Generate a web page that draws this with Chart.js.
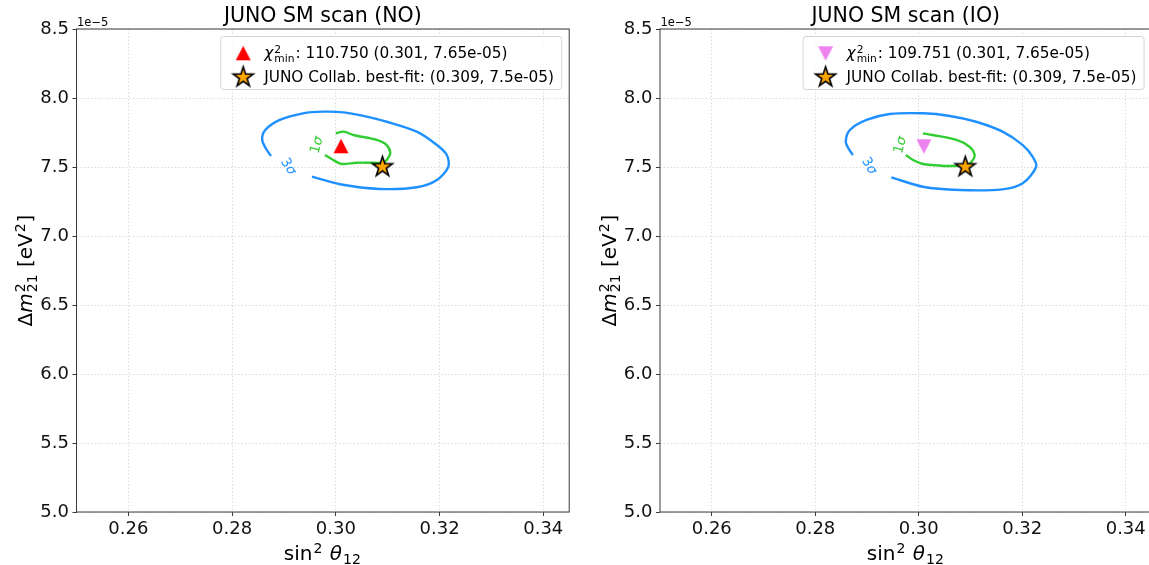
<!DOCTYPE html>
<html>
<head>
<meta charset="utf-8">
<script src="https://cdn.jsdelivr.net/npm/chart.js@4.4.0/dist/chart.umd.min.js"></script>
<style>
  html, body { margin: 0; padding: 0; background: #fff; overflow: hidden; }
  #wrap { position: relative; width: 1149px; height: 565px; overflow: hidden; }
  canvas { position: absolute; top: 0; }
</style>
</head>
<body>
<div id="wrap">
  <canvas id="cNO" width="574" height="565" style="left:0px"></canvas>
  <canvas id="cIO" width="580" height="565" style="left:574px"></canvas>
</div>
<script>
// axes: sin^2(theta12) vs dm^2_21, y values are in units of 1e-5 eV^2
const xTicks = [0.26, 0.28, 0.30, 0.32, 0.34];
const yTicks = [5.0, 5.5, 6.0, 6.5, 7.0, 7.5, 8.0, 8.5];

// NO contours
const noSig3X = [0.2954, 0.3008, 0.3085, 0.3156, 0.3195, 0.3217, 0.3214, 0.3195, 0.3156, 0.3098, 0.3053, 0.3015, 0.2976, 0.2937, 0.2892, 0.2864, 0.2858, 0.2867, 0.2875];
const noSig3Y = [7.430, 7.375, 7.341, 7.353, 7.406, 7.502, 7.587, 7.659, 7.756, 7.828, 7.870, 7.896, 7.901, 7.889, 7.841, 7.768, 7.696, 7.623, 7.580];
const noSig1X = [0.3000, 0.3015, 0.3034, 0.3079, 0.3098, 0.3105, 0.3098, 0.3092, 0.3072, 0.3040, 0.3011, 0.2995, 0.2979];
const noSig1Y = [7.744, 7.756, 7.732, 7.696, 7.659, 7.599, 7.551, 7.531, 7.531, 7.531, 7.522, 7.551, 7.587];

// IO contours
const ioSig3X = [0.2947, 0.3008, 0.3079, 0.3162, 0.3201, 0.3227, 0.3220, 0.3201, 0.3162, 0.3111, 0.3060, 0.3008, 0.2944, 0.2899, 0.2867, 0.2859, 0.2866, 0.2873];
const ioSig3Y = [7.425, 7.357, 7.333, 7.338, 7.382, 7.502, 7.575, 7.659, 7.756, 7.828, 7.870, 7.889, 7.884, 7.841, 7.768, 7.683, 7.623, 7.587];
const ioSig1X = [0.3008, 0.3027, 0.3073, 0.3098, 0.3108, 0.3102, 0.3092, 0.3060, 0.3027, 0.3008, 0.2989, 0.2975];
const ioSig1Y = [7.744, 7.732, 7.696, 7.647, 7.587, 7.538, 7.514, 7.507, 7.514, 7.522, 7.551, 7.587];

// best points
const noMin = [0.301, 7.65];
const ioMin = [0.301, 7.65];
const bestFit = [0.309, 7.5];
const chi2NO = 110.750;
const chi2IO = 109.751;

const FONT = "'DejaVu Sans', sans-serif";
const BLUE = '#1e90ff', GREEN = '#32cd32', SPINE = '#3a3a3a';

function font(size, it) { return (it ? 'italic ' : '') + size + 'px ' + FONT; }
function pts(xs, ys) { return xs.map((x, i) => ({ x: x, y: ys[i] })); }
function eText(v) { return v.toString() + 'e-05'; }

// simple mathtext: runs of text with stacked super/subscripts
function drawMath(ctx, x, y, base, parts, align) {
  const runs = [];
  let w = 0;
  for (const p of parts) {
    if (p.sup !== undefined || p.sub !== undefined) {
      const s = base * 0.7;
      ctx.font = font(s);
      let ww = 0;
      if (p.sup) { runs.push({ t: p.sup, x: w + 1, dy: -base * 0.34, size: s }); ww = Math.max(ww, ctx.measureText(p.sup).width); }
      if (p.sub) { runs.push({ t: p.sub, x: w + 1, dy: base * 0.23, size: s }); ww = Math.max(ww, ctx.measureText(p.sub).width); }
      w += ww + 2;
    } else {
      ctx.font = font(base, p.it);
      runs.push({ t: p.t, x: w, dy: 0, size: base, it: p.it });
      w += ctx.measureText(p.t).width;
    }
  }
  const x0 = align === 'center' ? x - w / 2 : x;
  ctx.textAlign = 'left';
  for (const r of runs) {
    ctx.font = font(r.size, r.it);
    ctx.fillText(r.t, x0 + r.x, y + r.dy);
  }
}

function makeStar(R) {
  const n = Math.ceil(2 * R + 6);
  const c = document.createElement('canvas');
  c.width = n; c.height = n;
  const g = c.getContext('2d');
  g.beginPath();
  for (let i = 0; i < 10; i++) {
    const r = i % 2 === 0 ? R : R * 0.381966;
    const ang = -Math.PI / 2 + i * Math.PI / 5;
    const px = n / 2 + r * Math.cos(ang), py = n / 2 + r * Math.sin(ang);
    if (i === 0) g.moveTo(px, py); else g.lineTo(px, py);
  }
  g.closePath();
  g.fillStyle = '#ffa500';
  g.fill();
  g.lineWidth = 1.6;
  g.strokeStyle = '#000';
  g.lineJoin = 'miter';
  g.stroke();
  return c;
}

function makeTri(color, down) {
  const n = 18;
  const c = document.createElement('canvas');
  c.width = n; c.height = n;
  const g = c.getContext('2d');
  g.beginPath();
  if (!down) {
    g.moveTo(9, 1.5); g.lineTo(16.5, 16); g.lineTo(1.5, 16);
  } else {
    g.moveTo(9, 16.5); g.lineTo(16.5, 2); g.lineTo(1.5, 2);
  }
  g.closePath();
  g.fillStyle = color;
  g.fill();
  return c;
}

const starImg = makeStar(10.5);

const decor = {
  id: 'decor',
  afterDraw(chart, args, o) {
    const ctx = chart.ctx, a = chart.chartArea;
    const sx = chart.scales.x, sy = chart.scales.y;
    ctx.save();

    // contour labels
    for (const l of o.labels) {
      const px = sx.getPixelForValue(l.x), py = sy.getPixelForValue(l.y);
      ctx.save();
      ctx.translate(px, py);
      ctx.rotate(l.rot * Math.PI / 180);
      ctx.fillStyle = l.color;
      ctx.textBaseline = 'middle';
      drawMath(ctx, 0, 0, 13.5, [{ t: l.n }, { t: 'σ', it: true }], 'center');
      ctx.restore();
    }

    // frame
    ctx.strokeStyle = SPINE;
    ctx.lineWidth = 1;
    ctx.strokeRect(a.left, a.top, a.right - a.left, a.bottom - a.top);

    // title
    ctx.fillStyle = '#000';
    ctx.textBaseline = 'alphabetic';
    ctx.font = font(20.5);
    ctx.textAlign = 'center';
    ctx.fillText(o.title, (a.left + a.right) / 2, 22);

    // offset text
    ctx.font = font(11.5);
    ctx.textAlign = 'left';
    ctx.fillText('1e\u22125', a.left + 0.5, 25.5);

    // axis titles
    drawMath(ctx, (a.left + a.right) / 2, 559.5, 20,
      [{ t: 'sin' }, { sup: '2' }, { t: ' ' }, { t: 'θ', it: true }, { sub: '12' }], 'center');
    ctx.save();
    ctx.translate(a.left - 44.5, (a.top + a.bottom) / 2);
    ctx.rotate(-Math.PI / 2);
    drawMath(ctx, 0, 0, 20,
      [{ t: 'Δ' }, { t: 'm', it: true }, { sup: '2', sub: '21' }, { t: ' [eV' }, { sup: '2' }, { t: ']' }], 'center');
    ctx.restore();

    // legend
    const bw = 341, bh = 53;
    const bx = a.right - 8 - bw, by = a.top + 7;
    ctx.beginPath();
    if (ctx.roundRect) ctx.roundRect(bx + 0.5, by + 0.5, bw, bh, 3);
    else ctx.rect(bx + 0.5, by + 0.5, bw, bh);
    ctx.fillStyle = 'rgba(255,255,255,0.8)';
    ctx.fill();
    ctx.strokeStyle = '#d4d4d4';
    ctx.lineWidth = 1;
    ctx.stroke();

    ctx.drawImage(o.minImg, bx + 23 - o.minImg.width / 2, by + 17.3 - o.minImg.height / 2);
    ctx.drawImage(starImg, bx + 23 - starImg.width / 2, by + 41.3 - starImg.height / 2);

    ctx.fillStyle = '#000';
    drawMath(ctx, bx + 44, by + 22, 15.3,
      [{ t: 'χ', it: true }, { sup: '2', sub: 'min' },
       { t: ': ' + o.chi2.toFixed(3) + ' (' + o.min[0].toFixed(3) + ', ' + eText(o.min[1]) + ')' }], 'left');
    ctx.font = font(15.3);
    ctx.fillText('JUNO Collab. best-fit: (' + bestFit[0].toFixed(3) + ', ' + eText(bestFit[1]) + ')', bx + 44, by + 45.5);

    ctx.restore();
  }
};

function makeChart(id, o) {
  const tickFont = { family: FONT, size: 18 };
  return new Chart(document.getElementById(id), {
    type: 'scatter',
    data: {
      datasets: [
        { data: [{ x: o.min[0], y: o.min[1] }], pointStyle: o.minImg, pointRadius: 8, pointHoverRadius: 8 },
        { data: [{ x: bestFit[0], y: bestFit[1] }], pointStyle: starImg, pointRadius: 8, pointHoverRadius: 8 },
        { data: pts(o.s1x, o.s1y), showLine: true, borderColor: GREEN, borderWidth: 2.4,
          pointRadius: 0, tension: 0.3, fill: false },
        { data: pts(o.s3x, o.s3y), showLine: true, borderColor: BLUE, borderWidth: 2.4,
          pointRadius: 0, tension: 0.3, fill: false }
      ]
    },
    options: {
      responsive: false,
      animation: false,
      devicePixelRatio: 1,
      events: [],
      layout: { autoPadding: false, padding: { top: 29, right: o.padRight, left: 0, bottom: 0 } },
      plugins: {
        legend: { display: false },
        tooltip: { enabled: false },
        decor: o
      },
      scales: {
        x: {
          type: 'linear', min: 0.25, max: 0.345,
          afterBuildTicks: s => { s.ticks = xTicks.map(v => ({ value: v })); },
          afterFit: s => { s.height = 53; s.paddingLeft = 0; s.paddingRight = 0; },
          ticks: { callback: v => v.toFixed(2), font: tickFont, color: '#111', padding: 3,
                   maxRotation: 0, autoSkip: false },
          grid: { color: 'rgba(150,150,150,0.45)', lineWidth: 0.8, tickColor: SPINE, tickLength: 4, tickWidth: 1 },
          border: { display: false, dash: [1.5, 2] }
        },
        y: {
          type: 'linear', min: 5.0, max: 8.5,
          afterBuildTicks: s => { s.ticks = yTicks.map(v => ({ value: v })); },
          afterFit: s => { s.width = o.yw; s.paddingTop = 0; s.paddingBottom = 0; },
          ticks: { callback: v => v.toFixed(1), font: tickFont, color: '#111', padding: 3.5, autoSkip: false },
          grid: { color: 'rgba(150,150,150,0.45)', lineWidth: 0.8, tickColor: SPINE, tickLength: 4, tickWidth: 1 },
          border: { display: false, dash: [1.5, 2] }
        }
      }
    },
    plugins: [decor]
  });
}

makeChart('cNO', {
  title: 'JUNO SM scan (NO)', chi2: chi2NO, min: noMin, minImg: makeTri('#ff0000', false),
  s1x: noSig1X, s1y: noSig1Y, s3x: noSig3X, s3y: noSig3Y,
  yw: 76.5, padRight: 4.8,
  labels: [
    { n: '1', x: 0.2964, y: 7.659, rot: -75, color: GREEN },
    { n: '3', x: 0.2908, y: 7.502, rot: 58, color: BLUE }
  ]
});

makeChart('cIO', {
  title: 'JUNO SM scan (IO)', chi2: chi2IO, min: ioMin, minImg: makeTri('#ee82ee', true),
  s1x: ioSig1X, s1y: ioSig1Y, s3x: ioSig3X, s3y: ioSig3Y,
  yw: 86, padRight: 2.4,
  labels: [
    { n: '1', x: 0.2965, y: 7.659, rot: -75, color: GREEN },
    { n: '3', x: 0.2904, y: 7.507, rot: 58, color: BLUE }
  ]
});
</script>
</body>
</html>
